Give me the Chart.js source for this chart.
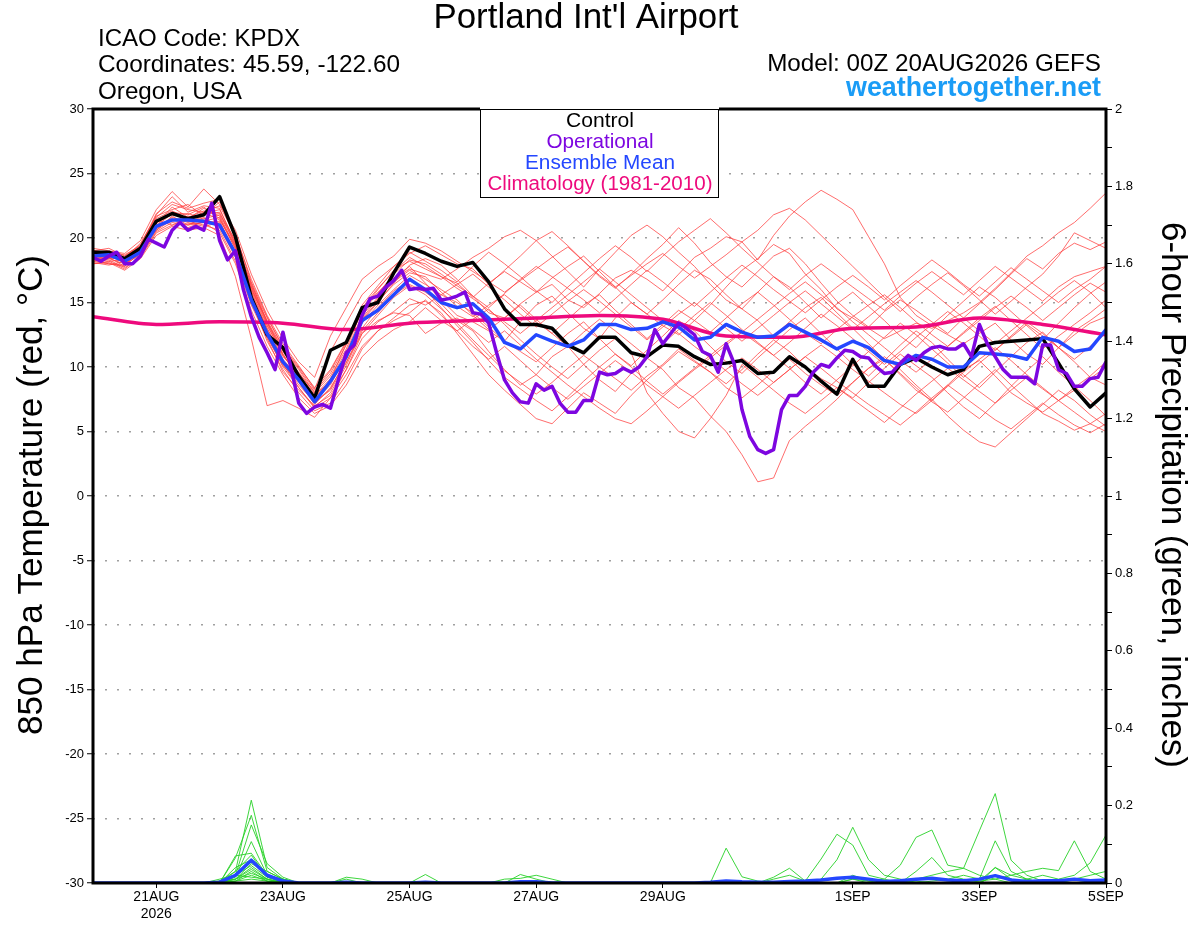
<!DOCTYPE html>
<html>
<head>
<meta charset="utf-8">
<script src="https://cdn.jsdelivr.net/npm/chart.js@4.4.1/dist/chart.umd.min.js"></script>
<style>
  html, body { margin: 0; padding: 0; background: #fff; }
</style>
</head>
<body>
<canvas id="chart" width="1200" height="927"></canvas>
<script>
// GEFS 850 hPa temperature + 6-hour precipitation, KPDX, run 00Z 20AUG2026
// members / control / mean are 6-hourly from 00Z 20AUG, operational is 3-hourly, climatology daily

const tickHours = [24, 72, 120, 168, 216, 288, 336, 384];
const tickLabels = [['21AUG', '2026'], '23AUG', '25AUG', '27AUG', '29AUG', '1SEP', '3SEP', '5SEP'];

const control = [18.9,18.9,18.4,19.2,21.3,21.9,21.5,21.8,23.2,20.1, 15.4,12.5,11.5,9.3,7.6,11.3,11.9,14.6,15.0,17.3,
  19.3,18.8,18.2,17.8,18.1,16.6,14.5,13.3,13.3,13.0, 11.7,11.1,12.3,12.3,11.1,10.8,11.7,11.6,10.8,10.2,
  10.3,10.5,9.5,9.6,10.8,10.0,8.9,7.9,10.6,8.5, 8.5,10.2,10.7,10.0,9.4,9.8,11.6,11.9,12.0,12.1, 12.2,10.3,8.3,6.9,8.0];

const ensMean = [18.6,18.7,18.2,18.9,20.9,21.4,21.4,21.3,21.0,18.8, 15.2,12.6,10.4,9.0,7.3,8.9,10.8,13.6,14.4,15.6,
  16.8,16.0,15.0,14.6,14.9,13.8,11.9,11.4,12.5,12.0, 11.6,12.1,13.3,13.3,12.9,13.0,13.5,13.1,12.1,12.3,
  13.3,12.7,12.3,12.4,13.3,12.7,12.1,11.4,12.0,11.5, 10.5,10.2,10.9,10.6,10.0,10.0,11.1,11.0,10.9,10.6, 12.3,12.0,11.2,11.4,12.9];

const operational = [18.5,18.2,18.6,18.9,18.0,18.0,18.6,19.9,19.6,19.3, 20.6,21.2,20.6,20.9,20.6,22.7,19.8,18.3,19.0,16.0,
  13.9,12.3,11.1,9.8,12.7,10.0,7.2,6.4,6.9,7.1, 6.8,9.0,11.1,11.7,14.0,15.3,15.5,16.2,16.7,17.5, 16.0,16.1,16.0,
  16.1,15.2,15.3,15.5,15.8,14.2,14.1,13.4,11.1,9.0, 8.0,7.3,7.2,8.7,8.2,8.5,7.2,6.5,6.5,7.4,
  7.4,9.6,9.4,9.5,9.9,9.6,10.0,10.8,12.9,11.8, 12.6,13.4,13.0,12.5,11.2,10.9,9.6,11.8,10.3,6.7, 4.6,
  3.6,3.3,3.6,6.7,7.8,7.8,8.5,9.6,10.2,10.0, 10.7,11.3,11.2,10.8,10.7,10.0,9.5,9.6,10.3,10.9,
  10.5,11.1,11.5,11.6,11.4,11.4,11.8,10.8,13.3,11.8, 10.8,9.8,9.2,9.2,9.2,8.7,11.7,11.7,9.8,9.5, 8.5,8.5,9.1,9.2,10.4];

const climatology = [13.9,13.3,13.5,13.4,12.9,13.4,13.6,13.8,14.0,13.7,12.4,12.3,13.0,13.1,13.8,13.3,12.5];

const member01 = [18.2,18.0,17.8,19.3,21.8,23.2,22.0,22.5,22.3,19.5,16.5,13.5,11.0,9.2,7.6,9.0,11.8,14.5,15.8,16.9,17.8, 16.5,15.2,14.0,13.5,12.8,12.0,13.5,14.8,15.5,14.2, 13.0,12.2,13.8,15.0,14.1,13.2,12.5,13.6,14.8,16.2, 17.5,18.4,19.5,18.8,17.2,16.0,14.5,13.8,13.0,12.2, 12.8,13.4,13.0,13.6,14.2,15.0,16.1,17.3,18.6,19.4, 20.4,21.2,22.3,23.5];
const member02 = [18.5,18.8,18.0,19.0,21.0,22.0,21.8,22.4,21.5,19.2,15.8,13.0,10.8,9.6,7.9,8.8,10.9,13.6,15.0,16.5,17.9, 18.4,17.9,16.8,15.5,14.2,13.8,14.9,15.8,16.4,15.2, 14.6,15.7,16.9,17.5,16.8,15.9,17.2,18.5,19.2,20.1, 19.7,18.3,20.2,21.7,22.8,23.7,23.0,22.2,20.1,18.0, 15.4,14.0,13.2,12.5,11.8,12.6,13.4,12.1,11.0,10.2, 11.5,12.8,13.6,14.5];
const member03 = [18.0,18.2,17.6,18.6,20.5,21.2,21.0,21.6,20.8,18.5,15.0,12.4,10.0,8.4,6.9,8.0,10.1,12.8,14.2,15.6,16.4, 15.8,14.9,13.6,12.8,11.2,9.8,8.6,9.4,10.8,11.6, 10.2,9.0,8.1,9.5,10.7,9.8,8.4,7.6,6.2,5.0, 3.2,1.1,1.4,4.3,5.4,6.4,7.5,8.8,9.9,10.6, 9.4,8.2,7.4,8.6,9.8,10.5,9.3,8.0,7.2,6.5, 7.4,8.2,9.1,10.0];
const member04 = [19.0,19.2,18.6,19.5,21.6,22.6,22.2,22.0,22.5,20.2,16.8,14.0,11.8,10.1,8.3,11.2,13.4,15.6,16.8,17.8,18.8, 19.4,18.7,18.0,17.6,16.4,17.5,18.6,19.8,20.5,19.4, 18.2,17.0,16.1,17.2,18.4,19.5,20.8,19.6,18.1,17.0, 16.2,17.4,18.6,19.2,18.0,16.5,15.1,14.0,13.1,14.3, 15.2,14.4,13.5,12.6,13.8,14.9,16.0,17.2,18.4,17.6, 18.8,19.6,19.1,19.7];
const member05 = [18.3,18.0,17.9,18.8,20.8,21.6,21.2,20.9,21.2,18.8,15.2,12.0,9.8,8.0,6.6,7.2,9.0,11.4,12.8,13.8,14.8, 15.1,14.2,12.6,11.0,9.4,8.2,7.1,6.0,5.6,6.8, 8.0,7.2,6.4,7.8,9.0,10.1,11.2,10.4,9.6,8.7, 9.8,11.0,12.1,11.2,10.0,9.1,8.4,7.6,8.8,9.9, 11.0,10.1,9.2,8.0,6.9,6.0,7.2,8.5,9.7,10.8, 9.6,8.5,7.4,6.2];
const member06 = [18.8,18.5,18.3,19.1,21.2,21.8,21.9,21.5,21.8,19.6,16.2,13.4,11.2,9.4,7.8,9.1,11.2,14.0,15.4,16.8,17.6, 17.2,16.8,17.6,18.5,19.2,20.1,20.6,19.8,18.6,17.4, 16.2,17.6,18.9,20.2,21.0,20.1,18.9,17.8,16.4,15.2, 14.5,15.8,17.0,16.2,15.0,13.8,14.9,15.8,14.7,13.6, 12.4,11.5,12.8,14.0,15.1,16.2,15.4,14.3,13.2,12.1, 13.4,14.6,15.7,16.6];
const member07 = [18.6,18.4,18.5,19.4,21.4,21.0,21.6,22.1,21.9,19.8,15.9,13.2,11.0,9.0,7.2,8.3,10.6,13.4,14.8,16.0,17.1, 16.4,15.6,15.0,14.2,13.1,12.0,11.2,10.4,11.5,12.6, 13.5,12.2,11.0,10.1,11.3,12.4,13.6,12.8,11.6,10.4, 9.5,10.7,11.8,12.9,13.8,12.6,11.4,10.2,9.3,10.5, 11.7,12.8,11.9,10.6,9.4,8.4,9.6,10.8,11.9,12.7, 11.5,10.4,9.2,8.6];
const member08 = [18.4,18.6,18.1,19.0,21.1,22.4,21.6,21.8,22.0,19.4,16.0,13.6,11.4,9.8,8.0,9.3,11.4,14.4,16.0,17.5,18.2, 17.6,17.0,16.5,15.4,16.5,17.4,16.6,15.8,16.9,17.8, 18.6,17.4,16.2,15.0,14.1,15.2,16.4,17.5,16.8,15.6, 14.5,13.6,12.4,13.5,14.6,15.4,14.2,13.0,11.8,10.6, 9.5,8.4,7.3,6.5,7.6,8.7,9.8,8.6,7.5,6.4, 5.8,5.1,5.6,6.4];
const member09 = [18.2,18.4,18.0,18.7,20.6,21.4,21.3,21.0,20.6,18.2,14.8,12.2,9.6,8.2,7.0,7.8,9.8,12.6,14.0,15.4,16.3, 15.6,14.5,13.4,12.1,10.9,9.7,8.8,7.9,8.8,9.9, 10.9,10.0,9.1,8.2,9.3,10.2,11.4,10.5,9.6,8.4, 7.6,8.6,9.7,10.6,9.5,8.6,7.8,8.8,9.9,10.8, 9.8,8.6,7.5,6.2,5.1,4.2,3.8,4.9,6.0,7.1, 8.2,7.4,6.3,5.4];
const member10 = [18.9,18.7,18.4,19.6,21.7,22.2,22.6,21.7,22.8,20.0,16.4,13.8,11.6,10.0,8.4,9.8,12.0,14.8,16.3,17.8,18.9, 18.2,17.5,16.6,17.8,18.9,18.0,17.0,15.9,15.0,16.2, 17.3,18.4,19.4,18.5,17.4,18.6,19.7,20.6,21.5,20.4, 19.2,18.1,17.0,16.0,17.1,18.0,17.1,16.2,15.3,14.4, 15.5,16.5,17.4,16.5,15.6,16.7,17.8,16.9,16.0,15.1, 16.2,17.0,17.4,17.8];
const member11 = [18.7,18.9,18.2,19.2,20.9,21.9,21.4,22.0,21.4,19.4,15.6,13.0,10.6,9.2,7.7,8.9,10.7,13.7,15.1,16.4,17.3, 17.0,15.8,14.7,13.9,14.8,15.6,14.6,13.5,12.6,13.7, 14.8,15.6,14.4,13.3,12.2,13.3,14.4,13.6,12.7,13.8, 14.9,15.8,14.8,13.7,12.6,11.8,12.9,13.9,14.8,15.6, 14.6,13.5,12.5,11.6,12.7,13.8,14.7,13.6,12.5,11.4, 12.4,13.3,14.2,15.2];
const member12 = [18.1,17.9,18.2,18.9,20.7,21.5,20.8,21.3,21.6,19.1,15.4,12.6,10.3,8.6,7.3,8.2,10.3,13.0,14.6,15.9,16.7, 16.0,14.6,13.2,11.9,10.5,9.2,8.3,7.4,6.6,7.7, 8.9,10.0,11.0,10.0,8.9,7.9,8.9,9.9,10.9,11.9, 12.7,11.8,10.9,9.9,8.8,7.9,9.0,10.1,11.2,12.3, 13.4,12.5,11.4,10.3,9.2,10.3,11.3,12.4,13.5,12.6, 11.5,10.6,11.6,12.6];
const member13 = [19.2,19.0,18.8,19.8,22.2,23.6,22.4,23.8,22.6,20.6,17.2,14.4,12.2,10.4,9.2,12.4,14.6,16.8,17.8,18.6,19.9, 19.6,19.0,18.2,17.4,16.6,15.8,16.7,17.6,18.5,19.3, 18.2,17.1,16.2,17.1,18.0,18.8,17.8,16.9,17.8,18.7, 19.7,20.6,21.8,22.3,21.4,20.2,19.0,17.8,16.6,15.4, 14.3,15.4,16.4,17.3,16.3,15.2,14.1,15.1,16.2,17.2, 18.6,20.4,19.8,19.2];
const member14 = [18.5,18.3,17.7,18.5,20.4,21.0,21.1,21.2,20.4,18.0,14.4,11.6,9.4,7.6,6.4,7.0,8.6,10.8,12.0,12.9,13.5, 14.6,13.6,12.8,13.7,14.5,13.3,12.1,11.0,10.0,9.1, 10.2,11.3,12.2,11.1,8.0,6.4,5.0,4.5,6.0,7.8, 10.2,9.2,8.2,7.2,6.4,7.4,8.4,7.5,6.6,5.7, 6.8,7.9,8.9,9.9,9.0,8.1,7.2,8.2,9.2,8.3, 7.4,6.5,5.6,5.0];
const member15 = [18.6,18.8,18.4,19.2,21.3,22.0,21.3,21.9,22.2,19.7,16.3,13.5,11.3,9.5,8.1,9.5,11.7,14.3,15.7,17.2,18.3, 18.0,17.2,16.3,15.5,14.6,15.7,16.8,17.8,17.0,16.1, 15.2,14.2,15.3,16.4,17.5,16.6,15.6,14.7,15.8,16.9, 17.9,17.0,16.0,15.1,14.2,15.2,16.2,17.1,16.2,15.2, 16.3,17.3,18.3,17.4,16.4,15.5,16.6,17.7,16.8,15.9, 15.0,16.0,16.8,17.8];
const member16 = [18.3,18.5,17.8,18.9,20.9,21.3,21.7,21.4,21.1,18.6,15.0,12.3,10.1,8.8,7.1,8.4,10.4,12.6,13.6,14.2,14.0, 12.6,13.4,13.8,12.9,11.9,12.8,11.7,10.6,9.6,8.6, 7.7,6.8,6.0,5.6,6.6,7.7,8.8,9.8,10.7,9.7, 8.7,7.8,8.8,9.8,10.8,11.7,10.8,9.8,8.9,8.0, 7.1,6.4,7.4,8.5,9.6,10.6,11.5,10.5,9.4,8.4, 7.4,8.4,9.3,10.4];
const member17 = [18.8,18.6,18.6,19.3,21.5,22.1,21.5,22.3,21.7,19.3,16.1,13.3,10.9,9.3,7.4,8.6,11.0,13.8,15.3,16.6,17.5, 16.8,16.0,15.2,14.0,12.9,13.8,14.8,13.7,12.6,11.6, 12.7,13.7,12.8,11.8,10.8,11.8,12.9,14.0,15.0,14.0, 12.9,11.9,10.9,11.9,13.0,14.1,13.2,12.2,11.2,10.2, 11.2,12.3,13.3,14.3,13.4,12.4,11.3,12.3,13.3,12.4, 11.5,12.5,13.4,13.9];
const member18 = [18.0,18.1,17.5,18.4,20.2,20.9,20.6,20.8,20.2,17.0,12.2,7.0,7.4,6.8,6.1,7.6,9.8,12.2,13.5,14.3,15.3, 14.8,15.6,16.4,17.2,16.2,15.2,14.1,13.1,14.1,15.1, 16.0,15.1,14.1,13.1,12.1,13.1,14.1,15.0,14.0,13.0, 12.0,13.0,14.0,15.0,15.9,14.9,13.9,12.9,13.9,14.9, 15.8,16.7,15.8,14.8,13.8,12.8,11.8,12.8,13.8,14.8, 15.8,16.7,15.8,14.6];
const member19 = [18.4,18.2,18.3,19.1,20.6,21.7,21.0,21.2,21.3,18.9,15.3,12.5,10.2,8.4,6.8,7.6,9.4,11.6,12.8,13.6,14.2, 15.2,14.0,12.8,11.6,10.6,11.6,10.5,9.4,8.4,7.5, 8.5,9.5,10.5,9.6,8.6,7.7,6.8,7.8,8.8,9.8, 10.7,9.8,8.8,9.8,10.8,9.9,8.9,8.0,7.1,6.3, 5.5,6.5,7.6,8.6,7.7,6.8,5.9,5.2,6.2,7.2, 6.3,5.5,4.9,5.6];
const member20 = [19.0,18.9,18.7,19.4,21.9,22.8,22.3,22.7,23.0,20.3,16.6,13.9,11.5,9.9,8.2,9.7,11.9,14.6,16.1,17.4,18.5, 17.8,17.0,16.1,15.3,14.4,13.5,12.6,13.6,14.6,15.6, 16.6,17.6,16.6,15.6,14.6,13.6,12.6,11.6,10.7,11.7, 12.7,13.7,14.7,15.7,16.6,15.6,14.6,13.5,12.5,11.5, 10.5,9.6,10.6,11.6,12.6,13.6,14.6,15.5,14.6,13.6, 14.6,15.6,16.5,15.8];

// 6-hour precipitation (inches)
const precipMean = [0,0,0,0,0, 0,0,0,0.002,0.02, 0.059,0.02,0.005,0,0, 0,0.002,0,0,0, 0,0.002,0,0,0, 0,0,0.003,0.003,0, 0,0,0,0,0, 0,0,0,0,0.002, 0.005,0.003,0.002,0.002,0.004, 0.005,0.008,0.012,0.015,0.01, 0.004,0.006,0.01,0.012,0.008, 0.006,0.01,0.019,0.008,0.004, 0.006,0.006,0.01,0.006,0.008];
const precip01 = [0,0,0,0,0, 0,0,0,0.005,0.03, 0.214,0.04,0.01,0,0, 0,0,0,0,0, 0,0,0,0,0, 0,0,0,0,0, 0,0,0,0,0, 0,0,0,0,0, 0,0,0,0,0, 0,0,0,0.01,0.005, 0,0,0.01,0.02,0.03, 0.038,0.135,0.231,0.059,0.02, 0.005,0,0.01,0.005,0];
const precip02 = [0,0,0,0,0, 0,0,0,0,0.065, 0.175,0.03,0.01,0,0, 0,0,0,0,0, 0,0,0,0,0, 0,0,0,0,0, 0,0,0,0,0, 0,0,0,0,0, 0,0,0,0.01,0.02, 0.005,0.062,0.126,0.098,0.02, 0.01,0,0.005,0,0, 0,0,0.02,0.01,0, 0,0,0,0.005,0.01];
const precip03 = [0,0,0,0,0, 0,0,0,0,0.02, 0.15,0.05,0.015,0,0, 0,0.01,0,0,0, 0,0,0,0,0, 0,0,0,0,0, 0,0,0,0,0, 0,0,0,0,0, 0.09,0.016,0.005,0,0, 0,0,0,0,0, 0,0,0,0,0, 0,0,0,0,0, 0,0,0,0,0];
const precip04 = [0,0,0,0,0, 0,0,0,0,0.015, 0.107,0.02,0.01,0,0, 0,0,0,0,0, 0,0,0,0,0, 0,0,0,0,0, 0,0,0,0,0, 0,0,0,0,0, 0,0,0,0,0.005, 0,0,0,0.02,0.005, 0.01,0.046,0.118,0.137,0.046, 0.038,0.02,0.01,0,0, 0,0,0,0,0];
const precip05 = [0,0,0,0,0, 0,0,0,0,0.07, 0.077,0.02,0,0,0, 0,0,0,0,0, 0,0,0,0,0, 0,0,0,0,0, 0,0,0,0,0, 0,0,0,0,0, 0,0,0,0,0, 0,0.01,0.06,0.144,0.06, 0.02,0.01,0,0,0, 0,0,0.02,0.01,0, 0,0,0,0,0];
const precip06 = [0,0,0,0,0, 0,0,0,0,0.03, 0.072,0.015,0,0,0, 0,0,0,0,0, 0,0.022,0,0,0, 0,0,0,0,0, 0,0,0,0,0, 0,0,0,0,0, 0,0,0,0,0, 0,0,0,0,0, 0,0,0,0.005,0.01, 0.02,0.01,0.109,0.03,0.01, 0,0.005,0,0,0];
const precip07 = [0,0,0,0,0, 0,0,0,0,0.04, 0.06,0.02,0,0,0, 0,0,0,0,0, 0,0,0,0,0, 0,0,0.022,0.01,0, 0,0,0,0,0, 0,0,0,0,0, 0,0,0,0,0, 0,0,0,0,0, 0,0,0,0,0, 0,0.005,0.01,0.02,0.03, 0.038,0.032,0.109,0.03,0.01];
const precip08 = [0,0,0,0,0, 0,0,0,0,0.01, 0.05,0.03,0.01,0,0, 0,0,0,0,0, 0,0,0,0,0, 0,0,0,0,0, 0,0,0,0,0, 0,0,0,0,0, 0,0,0,0,0, 0,0,0,0,0, 0,0,0,0,0, 0,0,0,0,0.01, 0.02,0.01,0.02,0.052,0.124];
const precip09 = [0,0,0,0,0, 0,0,0,0,0.02, 0.045,0.015,0.005,0,0, 0,0,0,0,0, 0,0,0,0,0, 0,0,0,0,0, 0,0,0,0,0, 0,0,0,0,0, 0,0,0,0,0, 0,0,0,0,0, 0,0,0.03,0.066,0.02, 0.01,0.005,0.04,0.02,0.01, 0,0.005,0.01,0.02,0.03];
const precip10 = [0,0,0,0,0, 0,0,0,0.005,0.01, 0.04,0.01,0,0,0, 0,0,0,0,0, 0,0,0,0,0, 0,0,0,0,0, 0,0,0,0,0, 0,0,0,0,0, 0,0,0,0.015,0.038, 0.005,0,0,0.01,0, 0,0,0,0,0, 0,0,0,0,0, 0,0,0,0,0];
const precip11 = [0,0,0,0,0, 0,0,0,0,0.01, 0.035,0.01,0,0,0, 0,0,0,0,0, 0,0,0,0,0, 0,0.01,0.012,0.02,0.01, 0,0,0,0,0, 0,0,0,0,0, 0,0,0,0,0, 0,0,0,0,0, 0,0,0,0,0, 0,0,0,0,0, 0,0,0,0,0];
const precip12 = [0,0,0,0,0, 0,0,0,0,0.005, 0.03,0.005,0,0,0, 0,0,0,0,0, 0,0,0,0,0, 0,0,0,0,0, 0,0,0,0,0, 0,0,0,0,0, 0,0,0,0,0, 0,0,0,0,0, 0,0,0,0,0, 0,0,0.04,0.01,0, 0,0,0,0,0];
const precip13 = [0,0,0,0,0, 0,0,0,0,0.01, 0.025,0.01,0,0,0, 0,0.015,0.01,0,0, 0,0,0,0,0, 0,0,0,0,0, 0,0,0,0,0, 0,0,0,0,0, 0,0,0,0,0, 0,0,0,0,0, 0,0,0,0,0, 0,0,0,0,0, 0,0,0,0,0];
const precip14 = [0,0,0,0,0, 0,0,0,0,0.005, 0.02,0.005,0,0,0, 0,0,0,0,0, 0,0,0,0,0, 0,0,0,0,0, 0,0,0,0,0, 0,0,0,0,0, 0,0,0,0,0, 0,0,0,0,0, 0,0,0,0,0, 0,0,0,0,0, 0,0,0,0,0];
const precip15 = [0,0,0,0,0, 0,0,0,0.01,0.02, 0.015,0.01,0,0,0, 0,0,0,0,0, 0,0,0,0,0, 0,0,0,0,0, 0,0,0,0,0, 0,0,0,0,0, 0,0,0,0,0, 0,0,0,0,0, 0,0,0,0,0, 0,0,0,0,0, 0,0,0,0,0];
const precip16 = [0,0,0,0,0, 0,0,0,0,0.005, 0.01,0.005,0,0,0, 0,0,0,0,0, 0,0,0,0,0, 0,0,0,0,0, 0,0,0,0,0, 0,0,0,0,0, 0,0,0,0,0, 0,0,0,0,0, 0,0,0,0,0, 0,0,0,0,0, 0,0,0,0,0];

const tempMembers = [member01, member02, member03, member04, member05, member06, member07, member08, member09, member10,
  member11, member12, member13, member14, member15, member16, member17, member18, member19, member20];
const precipMembers = [precip01, precip02, precip03, precip04, precip05, precip06, precip07, precip08,
  precip09, precip10, precip11, precip12, precip13, precip14, precip15, precip16];

const FONT = "'Liberation Sans', Arial, Helvetica, sans-serif";
const BLUE = '#2447ff';
const PURPLE = '#7d06e0';
const PINK = '#ee0a7d';

// forecast hour of each value
const hours6 = control.map((_, i) => i * 6);
const hours3 = operational.map((_, i) => i * 3);
const hours24 = climatology.map((_, i) => i * 24);
const pts = (hrs, vals) => vals.map((v, i) => ({x: hrs[i], y: v}));

const datasets = [];
tempMembers.forEach(m => datasets.push({
  data: pts(hours6, m), borderColor: 'rgba(255,60,60,0.75)', borderWidth: 1, yAxisID: 'y', order: 6
}));
precipMembers.forEach(p => datasets.push({
  data: pts(hours6, p), borderColor: 'rgba(40,210,40,0.9)', borderWidth: 1, yAxisID: 'y2', order: 5
}));
datasets.push({data: pts(hours6, precipMean), borderColor: BLUE, borderWidth: 3.5, yAxisID: 'y2', order: 4});
datasets.push({data: pts(hours24, climatology), borderColor: PINK, borderWidth: 3.5, yAxisID: 'y', order: 3,
  cubicInterpolationMode: 'monotone'});
datasets.push({data: pts(hours6, control), borderColor: '#000', borderWidth: 3.5, yAxisID: 'y', order: 2});
datasets.push({data: pts(hours6, ensMean), borderColor: BLUE, borderWidth: 3.5, yAxisID: 'y', order: 1});
datasets.push({data: pts(hours3, operational), borderColor: PURPLE, borderWidth: 3.5, yAxisID: 'y', order: 0});

// draw text scaled to a target width
function fitText(ctx, text, x, y, w, weight) {
  ctx.font = `${weight || ''} 20px ${FONT}`;
  const size = 20 * w / ctx.measureText(text).width;
  ctx.font = `${weight || ''} ${size.toFixed(2)}px ${FONT}`;
  ctx.fillText(text, x, y);
}

const decor = {
  id: 'decor',
  afterDatasetsDraw(chart) {
    const {ctx, chartArea: a} = chart;
    ctx.save();
    ctx.strokeStyle = '#000';
    ctx.lineWidth = 3;
    ctx.strokeRect(a.left, a.top, a.right - a.left, a.bottom - a.top);

    // legend box
    ctx.fillStyle = '#fff';
    ctx.fillRect(480, 106, 239, 92);
    ctx.lineWidth = 1;
    ctx.strokeRect(480.5, 109.5, 238, 88);
    ctx.textAlign = 'center';
    ctx.textBaseline = 'alphabetic';
    ctx.fillStyle = '#000';   fitText(ctx, 'Control', 600, 127, 68);
    ctx.fillStyle = PURPLE;   fitText(ctx, 'Operational', 600, 148, 107);
    ctx.fillStyle = BLUE;     fitText(ctx, 'Ensemble Mean', 600, 169, 150);
    ctx.fillStyle = PINK;     fitText(ctx, 'Climatology (1981-2010)', 600, 190, 225);
    ctx.restore();
  },
  afterDraw(chart) {
    const ctx = chart.ctx;
    ctx.save();
    ctx.fillStyle = '#000';
    ctx.textBaseline = 'alphabetic';
    ctx.textAlign = 'center';
    fitText(ctx, "Portland Int'l Airport", 586, 28, 305);
    ctx.textAlign = 'left';
    fitText(ctx, 'ICAO Code: KPDX', 98, 46, 202);
    fitText(ctx, 'Coordinates: 45.59, -122.60', 98, 72, 302);
    fitText(ctx, 'Oregon, USA', 98, 99, 144);
    ctx.textAlign = 'right';
    fitText(ctx, 'Model: 00Z 20AUG2026 GEFS', 1101, 71, 334);
    ctx.fillStyle = '#1a9cf6';
    fitText(ctx, 'weathertogether.net', 1101, 96, 255, 'bold');

    ctx.fillStyle = '#000';
    ctx.textAlign = 'center';
    ctx.textBaseline = 'middle';
    ctx.save();
    ctx.translate(32, 495);
    ctx.rotate(-Math.PI / 2);
    fitText(ctx, '850 hPa Temperature (red, \u00B0C)', 0, 0, 480);
    ctx.restore();
    ctx.save();
    ctx.translate(1172, 495);
    ctx.rotate(Math.PI / 2);
    fitText(ctx, '6-hour Precipitation (green, inches)', 0, 0, 546);
    ctx.restore();
    ctx.restore();
  }
};

new Chart(document.getElementById('chart'), {
  type: 'line',
  data: {datasets},
  plugins: [decor],
  options: {
    responsive: false,
    animation: false,
    devicePixelRatio: 1,
    layout: {padding: {top: 109, left: 0, right: 0, bottom: 0}},
    plugins: {legend: {display: false}, tooltip: {enabled: false}},
    elements: {point: {radius: 0}, line: {tension: 0, borderJoinStyle: 'round'}},
    scales: {
      x: {
        type: 'linear', min: 0, max: 384,
        afterBuildTicks: s => { s.ticks = tickHours.map(v => ({value: v})); },
        afterFit: s => { s.height = 44; },
        ticks: {
          autoSkip: false, maxRotation: 0, padding: 1, color: '#000',
          font: {family: FONT, size: 14},
          callback: v => tickLabels[tickHours.indexOf(v)]
        },
        grid: {drawOnChartArea: false, drawTicks: true, tickLength: 5, tickColor: '#000', tickWidth: 1},
        border: {display: false}
      },
      y: {
        position: 'left', min: -30, max: 30,
        afterFit: s => { s.width = 93; },
        ticks: {stepSize: 5, padding: 3, color: '#000', font: {family: FONT, size: 13}},
        grid: {
          color: c => (c.tick && Math.abs(c.tick.value) === 30) ? 'rgba(0,0,0,0)' : '#a0a0a0',
          lineWidth: 1.5, tickLength: 6, tickColor: '#000', tickWidth: 1, tickBorderDash: []
        },
        border: {display: false, dash: [2, 10]}
      },
      y2: {
        position: 'right', min: 0, max: 2,
        afterFit: s => { s.width = 94; },
        ticks: {
          stepSize: 0.1, autoSkip: false, padding: 3, color: '#000', font: {family: FONT, size: 13},
          callback: v => { const r = Math.round(v * 10); return r % 2 === 0 ? String(r / 10) : ''; }
        },
        grid: {drawOnChartArea: false, tickLength: 6, tickColor: '#000', tickWidth: 1},
        border: {display: false}
      }
    }
  }
});
</script>
</body>
</html>
